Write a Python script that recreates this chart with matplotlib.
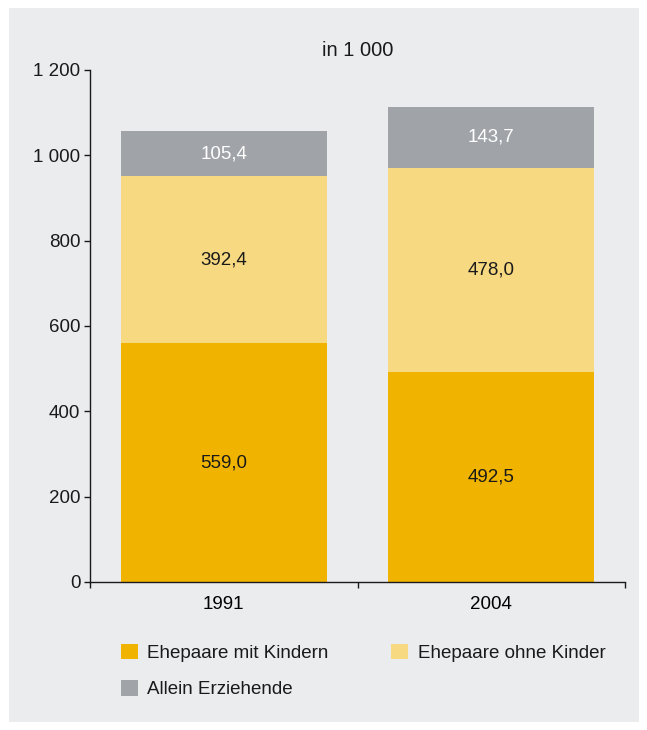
import matplotlib.pyplot as plt
from matplotlib.patches import Rectangle, Patch

plt.rcParams['font.family'] = ['Liberation Sans', 'DejaVu Sans']

years = ['1991', '2004']
mit_kindern = [559.0, 492.5]
ohne_kinder = [392.4, 478.0]
allein = [105.4, 143.7]
series_names = ['Ehepaare mit Kindern', 'Ehepaare ohne Kinder', 'Allein Erziehende']
colors = ['#F0B400', '#F7D982', '#A0A4A8']
label_colors = ['#1a1a1a', '#1a1a1a', 'white']
bg = '#EBECEE'
fs = 13.5

fig = plt.figure(figsize=(6.47, 7.30), dpi=100)
fig.patches.append(Rectangle((9 / 647, 1 - 722 / 730), 630 / 647, 714 / 730,
                             transform=fig.transFigure, facecolor=bg,
                             edgecolor='none', zorder=-10))

ax = fig.add_axes([90 / 647, 1 - 582 / 730, 535 / 647, 512 / 730])
ax.set_facecolor('none')

x = range(len(years))
bottom = [0.0] * len(years)
for vals, c, lc in zip([mit_kindern, ohne_kinder, allein], colors, label_colors):
    bars = ax.bar(x, vals, width=0.77, bottom=bottom, color=c, zorder=2)
    for b, v, b0 in zip(bars, vals, bottom):
        ax.text(b.get_x() + b.get_width() / 2, b0 + v / 2,
                f'{v:.1f}'.replace('.', ','), ha='center', va='center',
                fontsize=fs, color=lc, zorder=3)
    bottom = [b0 + v for b0, v in zip(bottom, vals)]

ax.set_xlim(-0.5, 1.5)
ax.set_ylim(0, 1200)
yt = [0, 200, 400, 600, 800, 1000, 1200]
ax.set_yticks(yt)
ax.set_yticklabels([f'{v:,}'.replace(',', ' ') for v in yt], fontsize=fs)
ax.set_xticks([-0.5, 0.5, 1.5])
ax.set_xticklabels([])
ax.set_xticks(list(x), minor=True)
ax.set_xticklabels(years, minor=True, fontsize=fs)
ax.tick_params(axis='x', which='minor', length=0, pad=10)
ax.tick_params(axis='both', which='major', length=4, width=1, color='#1a1a1a')
ax.tick_params(axis='y', pad=3, labelcolor='#1a1a1a')
for s in ['top', 'right']:
    ax.spines[s].set_visible(False)
for s in ['left', 'bottom']:
    ax.spines[s].set_linewidth(1)
    ax.spines[s].set_color('#1a1a1a')
    ax.spines[s].set_zorder(4)

ax.set_title('in 1 000', fontsize=14.5, pad=10, color='#1a1a1a')

handles = [Patch(facecolor=c, edgecolor='none') for c in colors]
order = [0, 2, 1]
fig.legend([handles[i] for i in order], [series_names[i] for i in order],
           ncol=2, loc='upper left', bbox_to_anchor=(104 / 647, 1 - 627 / 730),
           frameon=False, fontsize=fs, handlelength=0.9, handleheight=0.9,
           handletextpad=0.5, columnspacing=3.35, labelspacing=0.95,
           labelcolor='#1a1a1a')

fig.savefig('out.png', dpi=100)
